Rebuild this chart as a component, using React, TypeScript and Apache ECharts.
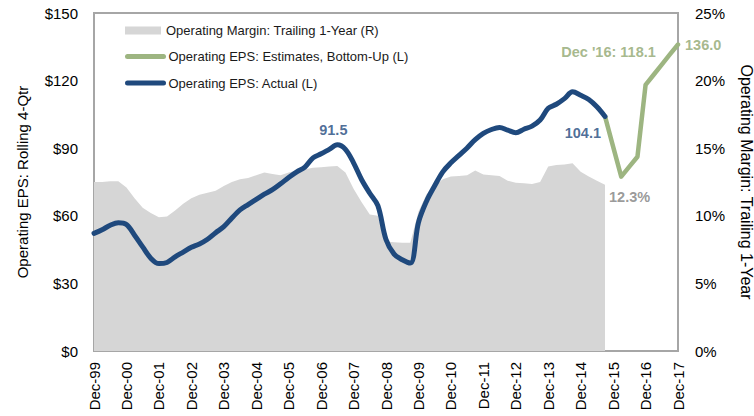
import React, { useEffect, useRef } from 'react';
import * as echarts from 'echarts';

// Year suffixes for the quarterly category axis (Dec-99 .. Dec-17)
const years = ['99', '00', '01', '02', '03', '04', '05', '06', '07', '08', '09', '10', '11', '12', '13', '14', '15', '16', '17'];
const quarterMonths = ['Mar', 'Jun', 'Sep', 'Dec'];

// Operating EPS: Actual (L), rolling 4-quarter, Dec-99 .. Sep-15
const epsActual = [
  52.2, 53.8, 55.8, 56.9, 56.1, 51.4, 46.2, 41.2, 38.8, 39.3,
  41.8, 43.9, 46.0, 47.5, 49.6, 52.5, 55.2, 59.0, 62.6, 65.0,
  67.3, 69.6, 71.6, 74.2, 77.0, 79.5, 81.6, 85.7, 87.5, 89.5,
  91.5, 89.5, 83.5, 76.0, 70.0, 64.5, 49.5, 43.0, 40.5, 39.0,
  57.0, 66.5, 73.3, 79.5, 83.5, 86.8, 90.1, 93.8, 96.6, 98.3,
  99.2, 98.0, 96.9, 98.4, 99.8, 102.5, 107.7, 109.5, 112.0, 115.0,
  113.5, 111.6, 108.4, 104.1,
];

// Operating EPS: Estimates, Bottom-Up (L), Sep-15 .. Dec-17
const epsEstimates = [104.1, 90.7, 77.4, 81.8, 86.2, 118.1, 122.6, 127.1, 131.6, 136.0];
const estimatesStartLabel = 'Sep-15';

// Operating Margin: Trailing 1-Year (R), %, Dec-99 .. Sep-15
const margin = [
  12.5, 12.5, 12.55, 12.55, 12.1, 11.3, 10.6, 10.2, 9.9, 9.95,
  10.4, 10.9, 11.3, 11.55, 11.7, 11.85, 12.2, 12.5, 12.7, 12.8,
  13.0, 13.2, 13.1, 13.0, 13.2, 13.35, 13.45, 13.55, 13.6, 13.65,
  13.68, 13.2, 12.0, 11.0, 10.1, 10.0, 8.1, 8.05, 8.0, 8.0,
  10.3, 11.6, 12.2, 12.7, 12.9, 12.95, 13.0, 13.35, 13.05, 13.0,
  12.95, 12.6, 12.45, 12.4, 12.35, 12.5, 13.65, 13.75, 13.8, 13.88,
  13.25, 12.9, 12.6, 12.3,
];

// Annotated points
const peakLabelAt = 'Jun-07';
const dec16LabelAt = 'Dec-16';

const leftTicks = { min: 0, max: 150, interval: 30 };
const rightTicks = { min: 0, max: 25, interval: 5 };

const seriesNames = [
  'Operating Margin: Trailing 1-Year (R)',
  'Operating EPS: Estimates, Bottom-Up (L)',
  'Operating EPS: Actual (L)',
];

const BLUE = '#1f497d';
const GREEN = '#9db581';
const GREEN_TEXT = '#8fa66f';
const GRAY_AREA = '#d6d6d6';
const GRAY_TEXT = '#7f7f7f';
const FONT = 'Liberation Sans';

export default function App() {
  const ref = useRef<HTMLDivElement>(null);

  useEffect(() => {
    if (!ref.current) return;
    document.body.style.margin = '0';
    const chart = echarts.init(ref.current, undefined, { renderer: 'svg' });

    const categories: string[] = ['Dec-' + years[0]];
    for (let y = 1; y < years.length; y++) {
      for (const m of quarterMonths) categories.push(`${m}-${years[y]}`);
    }

    const estimatesStart = categories.indexOf(estimatesStartLabel);
    const estData: (number | null)[] = categories.map((_, i) =>
      i >= estimatesStart && i - estimatesStart < epsEstimates.length ? epsEstimates[i - estimatesStart] : null
    );

    const peakIdx = categories.indexOf(peakLabelAt);
    const lastActual = epsActual.length - 1;
    const dec16Idx = categories.indexOf(dec16LabelAt);
    const lastEst = estimatesStart + epsEstimates.length - 1;
    const lastMargin = margin.length - 1;

    const boldLabel = { fontFamily: FONT, fontWeight: 'bold' as const, fontSize: 14.5 };

    const epsLabels = [
      {
        value: [peakIdx, epsActual[peakIdx]],
        label: { show: true, position: 'top', distance: 7, offset: [-4, 0], color: BLUE, ...boldLabel, formatter: epsActual[peakIdx].toFixed(1) },
      },
      {
        value: [lastActual, epsActual[lastActual]],
        label: { show: true, position: 'left', distance: 4, offset: [0, 17], color: BLUE, ...boldLabel, formatter: epsActual[lastActual].toFixed(1) },
      },
      {
        value: [dec16Idx, estData[dec16Idx]],
        label: { show: true, position: 'top', distance: 25, offset: [-37, 0], color: GREEN_TEXT, ...boldLabel, formatter: "Dec '16: " + (estData[dec16Idx] as number).toFixed(1) },
      },
      {
        value: [lastEst, epsEstimates[epsEstimates.length - 1]],
        label: { show: true, position: 'right', distance: 7, offset: [0, 0], color: GREEN_TEXT, ...boldLabel, formatter: epsEstimates[epsEstimates.length - 1].toFixed(1) },
      },
    ];

    const marginLabels = [
      {
        value: [lastMargin, margin[lastMargin]],
        label: { show: true, position: 'right', distance: 4, offset: [0, 12], color: GRAY_TEXT, ...boldLabel, formatter: margin[lastMargin].toFixed(1) + '%' },
      },
    ];

    const legendTops = [19, 45, 71.5];
    const legendBase = {
      orient: 'horizontal',
      left: 120,
      itemWidth: 36,
      itemHeight: 8,
      textStyle: { fontFamily: FONT, fontSize: 13, color: '#1a1a1a' },
    };
    const legends = [
      { ...legendBase, top: legendTops[0], data: [{ name: seriesNames[0], icon: 'rect' }] },
      {
        ...legendBase, top: legendTops[1],
        data: [{ name: seriesNames[1], itemStyle: { opacity: 0 }, lineStyle: { width: 5, color: GREEN, cap: 'round' } }],
      },
      {
        ...legendBase, top: legendTops[2],
        data: [{ name: seriesNames[2], itemStyle: { opacity: 0 }, lineStyle: { width: 5, color: BLUE, cap: 'round' } }],
      },
    ];

    chart.setOption({
      animation: false,
      backgroundColor: '#ffffff',
      textStyle: { fontFamily: FONT },
      grid: {
        left: 94, right: 76, top: 13, bottom: 65,
        outerBoundsMode: 'none',
        containLabel: false,
        show: true, borderColor: '#a6a6a6', borderWidth: 2, backgroundColor: 'transparent',
      },
      legend: legends,
      xAxis: {
        type: 'category',
        data: categories,
        boundaryGap: false,
        axisLine: { show: false },
        axisTick: { show: false },
        splitLine: { show: false },
        axisLabel: {
          interval: 3,
          rotate: 90,
          margin: 11,
          fontFamily: FONT,
          fontSize: 15,
          color: '#000',
        },
      },
      yAxis: [
        {
          type: 'value',
          ...leftTicks,
          name: 'Operating EPS: Rolling 4-Qtr',
          nameLocation: 'middle',
          nameGap: 64,
          nameRotate: 90,
          nameTextStyle: { fontFamily: FONT, fontSize: 15, color: '#000' },
          axisLine: { show: false },
          axisTick: { show: false },
          splitLine: { show: false },
          axisLabel: { formatter: '${value}', margin: 16, fontFamily: FONT, fontSize: 15, color: '#000' },
        },
        {
          type: 'value',
          ...rightTicks,
          name: 'Operating Margin: Trailing 1-Year',
          nameLocation: 'middle',
          nameGap: 60,
          nameRotate: -90,
          nameTextStyle: { fontFamily: FONT, fontSize: 16, color: '#000' },
          axisLine: { show: false },
          axisTick: { show: false },
          splitLine: { show: false },
          axisLabel: { formatter: '{value}%', margin: 17, fontFamily: FONT, fontSize: 15, color: '#000' },
        },
      ],
      series: [
        {
          name: seriesNames[0],
          type: 'line',
          yAxisIndex: 1,
          data: margin,
          symbol: 'none',
          color: GRAY_AREA,
          itemStyle: { color: GRAY_AREA },
          lineStyle: { width: 0, color: GRAY_AREA },
          areaStyle: { color: GRAY_AREA, opacity: 1 },
          z: 1,
        },
        {
          name: seriesNames[1],
          type: 'line',
          yAxisIndex: 0,
          data: estData,
          symbol: 'none',
          color: GREEN,
          lineStyle: { width: 4.5, color: GREEN, cap: 'round', join: 'round' },
          z: 3,
        },
        {
          name: seriesNames[2],
          type: 'line',
          yAxisIndex: 0,
          data: epsActual,
          symbol: 'none',
          smooth: 0.35,
          color: BLUE,
          lineStyle: { width: 5, color: BLUE, cap: 'round', join: 'round' },
          z: 4,
        },
        {
          name: 'eps-labels',
          type: 'scatter',
          yAxisIndex: 0,
          symbolSize: 0,
          silent: true,
          data: epsLabels,
          z: 6,
        },
        {
          name: 'margin-labels',
          type: 'scatter',
          yAxisIndex: 1,
          symbolSize: 0,
          silent: true,
          data: marginLabels,
          z: 6,
        },
      ],
    });

    return () => chart.dispose();
  }, []);

  return <div ref={ref} style={{ position: 'fixed', left: 0, top: 0, width: 754, height: 416 }} />;
}
